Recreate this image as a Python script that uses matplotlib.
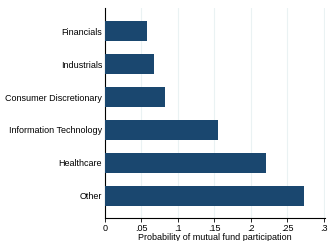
import matplotlib
matplotlib.use("Agg")
import matplotlib.pyplot as plt

categories = ["Financials", "Industrials", "Consumer Discretionary",
              "Information Technology", "Healthcare", "Other"]
values = [0.0575, 0.067, 0.082, 0.155, 0.221, 0.273]
xticks = [0, 0.05, 0.1, 0.15, 0.2, 0.25, 0.3]
xticklabels = ["0", ".05", ".1", ".15", ".2", ".25", ".3"]

plt.rcParams['font.family'] = ['Liberation Sans', 'DejaVu Sans']
fig = plt.figure(figsize=(3.3, 2.41), dpi=100)
ax = fig.add_axes([105/330, 23/241, 220/330, 210/241])
ypos = list(range(len(categories)))
ax.barh(ypos, values, height=0.6, color="#1a476f", zorder=3)
ax.set_yticks(ypos)
ax.set_yticklabels(categories, fontsize=6.5)
ax.set_ylim(5.67, -0.7)
ax.set_xlim(0, 0.3015)
ax.set_xticks(xticks)
ax.set_xticklabels(xticklabels, fontsize=6.5)
ax.grid(axis='x', color="#eaf2f3", linewidth=0.8, zorder=0)
for s in ['top', 'right']:
    ax.spines[s].set_visible(False)
ax.spines['left'].set_linewidth(0.8)
ax.spines['bottom'].set_linewidth(0.8)
ax.tick_params(axis='y', length=0, pad=2)
ax.tick_params(axis='x', length=3, width=0.6, pad=1)
ax.set_xlabel("Probability of mutual fund participation", fontsize=6.5, labelpad=0)
fig.savefig("out.png", dpi=100)
